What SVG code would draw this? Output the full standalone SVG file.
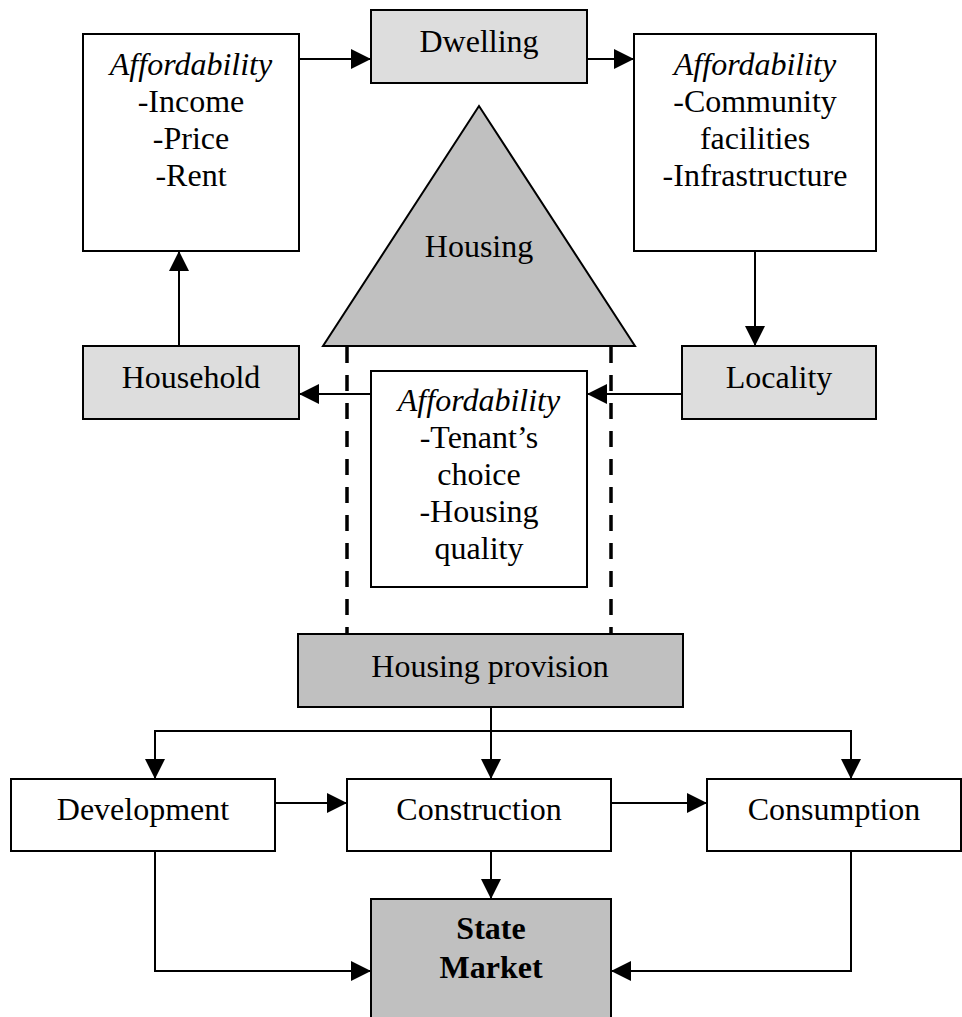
<svg xmlns="http://www.w3.org/2000/svg" width="962" height="1017" viewBox="0 0 962 1017">
<defs>
<marker id="ah" markerWidth="20" markerHeight="20" refX="20" refY="10" orient="auto" markerUnits="userSpaceOnUse">
<path d="M0,0 L20,10 L0,20 Z" fill="#000"/>
</marker>
<style>
.box{stroke:#000;stroke-width:2}
.w{fill:#fff}
.lg{fill:#dddddd}
.dg{fill:#c0c0c0}
text{font-family:"Liberation Serif","Times New Roman",serif;font-size:32px;fill:#000;text-anchor:middle}
.it{font-style:italic}
.b{font-weight:bold}
.c{fill:none;stroke:#000;stroke-width:2}
.a{marker-end:url(#ah)}
.d{fill:none;stroke:#000;stroke-width:3.5;stroke-dasharray:16 12}
</style>
</defs>
<rect width="962" height="1017" fill="#fff"/>

<g id="housing-triangle">
<polygon points="479,106 323,346 635,346" class="box dg"/>
<text x="479" y="257">Housing</text>
</g>

<g id="dashed-walls">
<line x1="347" y1="347" x2="347" y2="634" class="d"/>
<line x1="611" y1="347" x2="611" y2="634" class="d"/>
</g>

<g id="afford-left">
<rect x="83" y="34" width="216" height="217" class="box w"/>
<text x="191" y="75" class="it">Affordability</text>
<text x="191" y="112">-Income</text>
<text x="191" y="149">-Price</text>
<text x="191" y="186">-Rent</text>
</g>

<g id="dwelling">
<rect x="371" y="10" width="216" height="73" class="box lg"/>
<text x="479" y="52">Dwelling</text>
</g>

<g id="afford-right">
<rect x="634" y="34" width="242" height="217" class="box w"/>
<text x="755" y="75" class="it">Affordability</text>
<text x="755" y="112">-Community</text>
<text x="755" y="149">facilities</text>
<text x="755" y="186">-Infrastructure</text>
</g>

<g id="household">
<rect x="83" y="346" width="216" height="73" class="box lg"/>
<text x="191" y="388">Household</text>
</g>

<g id="locality">
<rect x="682" y="346" width="194" height="73" class="box lg"/>
<text x="779" y="388">Locality</text>
</g>

<g id="afford-middle">
<rect x="371" y="371" width="216" height="216" class="box w"/>
<text x="479" y="411" class="it">Affordability</text>
<text x="479" y="448">-Tenant’s</text>
<text x="479" y="485">choice</text>
<text x="479" y="522">-Housing</text>
<text x="479" y="559">quality</text>
</g>

<g id="housing-provision">
<rect x="298" y="634" width="385" height="73" class="box dg"/>
<text x="490" y="677">Housing provision</text>
</g>

<g id="development">
<rect x="11" y="779" width="264" height="72" class="box w"/>
<text x="143" y="820">Development</text>
</g>

<g id="construction">
<rect x="347" y="779" width="264" height="72" class="box w"/>
<text x="479" y="820">Construction</text>
</g>

<g id="consumption">
<rect x="707" y="779" width="254" height="72" class="box w"/>
<text x="834" y="820">Consumption</text>
</g>

<g id="state-market">
<rect x="371" y="899" width="240" height="130" class="box dg"/>
<text x="491" y="939" class="b">State</text>
<text x="491" y="978" class="b">Market</text>
</g>

<g id="connectors">
<line x1="299" y1="59" x2="371" y2="59" class="c a"/>
<line x1="587" y1="59" x2="634" y2="59" class="c a"/>
<line x1="755" y1="251" x2="755" y2="346" class="c a"/>
<line x1="179" y1="346" x2="179" y2="251" class="c a"/>
<line x1="682" y1="394" x2="587" y2="394" class="c a"/>
<line x1="371" y1="394" x2="299" y2="394" class="c a"/>
<line x1="491" y1="707" x2="491" y2="731" class="c"/>
<polyline points="491,731 155,731 155,779" class="c a"/>
<line x1="491" y1="731" x2="491" y2="779" class="c a"/>
<polyline points="491,731 851,731 851,779" class="c a"/>
<line x1="275" y1="803" x2="347" y2="803" class="c a"/>
<line x1="611" y1="803" x2="707" y2="803" class="c a"/>
<line x1="491" y1="851" x2="491" y2="899" class="c a"/>
<polyline points="155,851 155,971 371,971" class="c a"/>
<polyline points="851,851 851,971 611,971" class="c a"/>
</g>
</svg>
